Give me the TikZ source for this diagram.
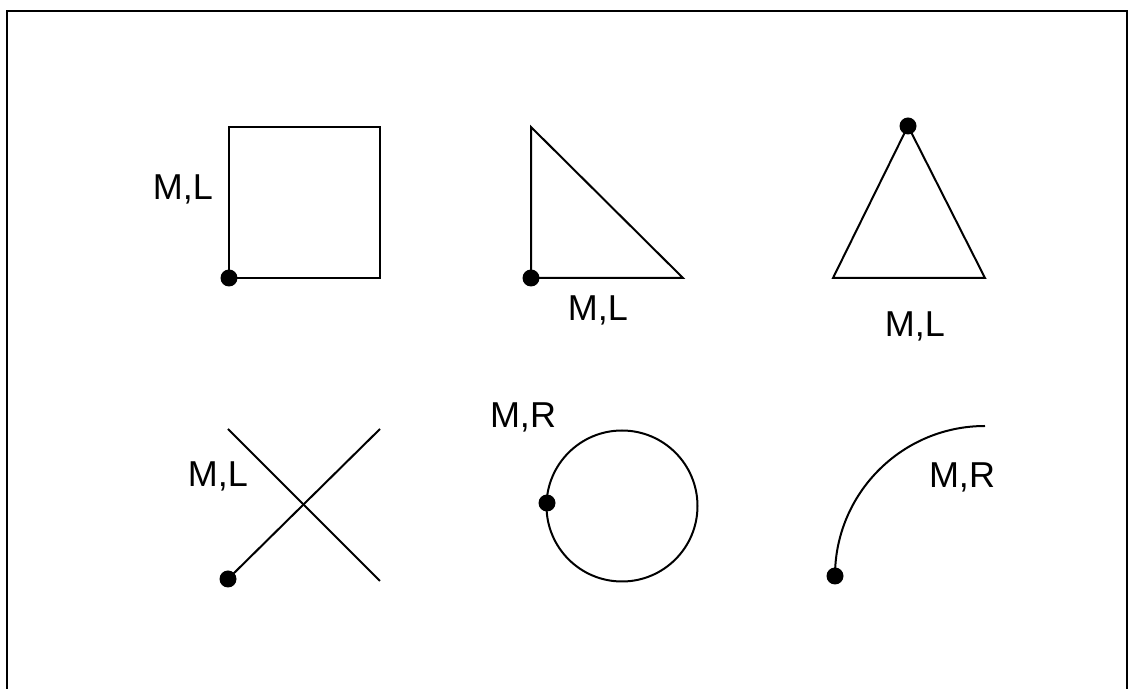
\documentclass[tikz,border=0pt]{standalone}
\usepackage{fontspec}
\setmainfont{Liberation Sans}
\usepackage{tikz}

\begin{document}
\begin{tikzpicture}[x=0.5pt,y=-0.5pt,
  shape line/.style={line width=1pt,black},
  dot/.style={fill=black,circle,minimum size=8.5pt,inner sep=0pt},
  lab/.style={font=\fontsize{18}{21}\selectfont,inner sep=0pt}]
  \useasboundingbox (0,0) rectangle (1132,689);
  % frame, open at the bottom
  \draw[line width=1.3pt] (7,700) -- (7,11) -- (1127,11) -- (1127,700);
  % square
  \coordinate (sqA) at (229,278);
  \coordinate (sqB) at (380,278);
  \coordinate (sqC) at (380,127);
  \coordinate (sqD) at (229,127);
  \draw[shape line] (sqA) -- (sqB) -- (sqC) -- (sqD) -- cycle;
  \node[dot] (sqdot) at (sqA) {};
  \node[lab] (sqlab) at (183,189) {M,L};
  % right triangle
  \coordinate (rtA) at (531,278);
  \coordinate (rtB) at (683,278);
  \coordinate (rtC) at (531,127);
  \draw[shape line] (rtA) -- (rtB) -- (rtC) -- cycle;
  \node[dot] (rtdot) at (rtA) {};
  \node[lab] (rtlab) at (598,310) {M,L};
  % isosceles triangle
  \coordinate (itA) at (908,126);
  \coordinate (itB) at (985,278);
  \coordinate (itC) at (833,278);
  \draw[shape line] (itA) -- (itB) -- (itC) -- cycle;
  \node[dot] (itdot) at (itA) {};
  \node[lab] (itlab) at (915,326) {M,L};
  % cross
  \coordinate (crA) at (228,579);
  \coordinate (crB) at (380,429);
  \coordinate (crC) at (228,429);
  \coordinate (crD) at (380,581);
  \draw[shape line] (crA) -- (crB);
  \draw[shape line] (crC) -- (crD);
  \node[dot] (crdot) at (crA) {};
  \node[lab] (crlab) at (218,476) {M,L};
  % circle
  \coordinate (ciO) at (622,506);
  \draw[shape line] (ciO) circle[radius=75.5];
  \node[dot] (cidot) at (547,503) {};
  \node[lab] (cilab) at (523,417) {M,R};
  % arc
  \coordinate (arA) at (835,576);
  \draw[shape line] (arA) arc[start angle=180,end angle=270,radius=150];
  \node[dot] (ardot) at (arA) {};
  \node[lab] (arlab) at (962,477) {M,R};
\end{tikzpicture}
\end{document}
